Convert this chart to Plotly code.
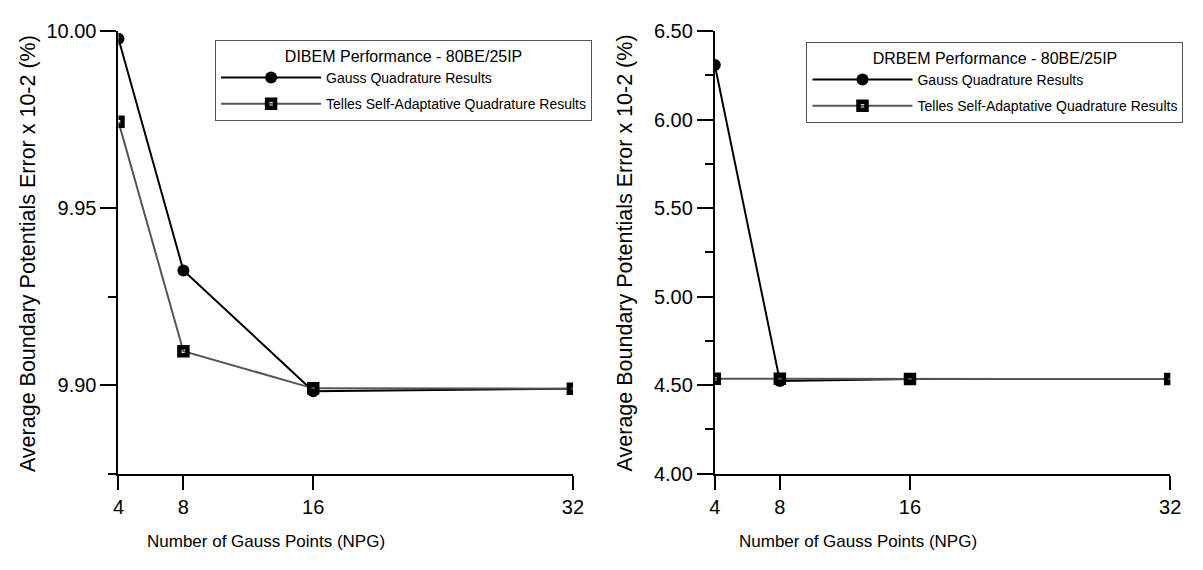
import plotly.graph_objects as go

# ---- data ----
npg = [4, 8, 16, 32]
x_ticks = [4, 8, 16, 32]

dibem_gauss = [9.9978, 9.9324, 9.8983, 9.8990]
dibem_telles = [9.9744, 9.9096, 9.8991, 9.8990]

drbem_gauss = [6.308, 4.524, 4.535, 4.535]
drbem_telles = [4.536, 4.536, 4.535, 4.535]

left_yticks = [9.90, 9.95, 10.00]
left_yminor = [9.875, 9.925]
right_yticks = [4.00, 4.50, 5.00, 5.50, 6.00, 6.50]
right_yminor = [4.25, 4.75, 5.25, 5.75, 6.25]

names = ["Gauss Quadrature Results", "Telles Self-Adaptative Quadrature Results"]
legend_titles = ["DIBEM Performance - 80BE/25IP", "DRBEM Performance - 80BE/25IP"]
y_title = "Average Boundary Potentials Error x 10-2 (%)"
x_title = "Number of Gauss Points (NPG)"

# page is 1203x570; the html body keeps a default 8px margin
PAGE_W, PAGE_H, BODY = 1203, 570, 8
W, H = PAGE_W - 2 * BODY, PAGE_H - 2 * BODY
FONT = "Liberation Sans, Arial, sans-serif"

fig = go.Figure()

gauss_marker = dict(symbol="circle", size=12, color="black")
telles_marker = dict(symbol="square-open", size=8, color="black", line=dict(width=4.5, color="black"))

# left panel
fig.add_trace(go.Scatter(x=npg, y=dibem_gauss, mode="lines+markers", name=names[0],
                         line=dict(color="black", width=2), marker=gauss_marker,
                         xaxis="x", yaxis="y", legend="legend", legendgroup="g1"))
fig.add_trace(go.Scatter(x=npg, y=dibem_telles, mode="lines+markers", name=names[1],
                         line=dict(color="#555555", width=2), marker=telles_marker,
                         xaxis="x", yaxis="y", legend="legend", legendgroup="t1"))
# right panel
fig.add_trace(go.Scatter(x=npg, y=drbem_gauss, mode="lines+markers", name=names[0],
                         line=dict(color="black", width=2), marker=gauss_marker,
                         xaxis="x2", yaxis="y2", legend="legend2", legendgroup="g2"))
fig.add_trace(go.Scatter(x=npg, y=drbem_telles, mode="lines+markers", name=names[1],
                         line=dict(color="#555555", width=2), marker=telles_marker,
                         xaxis="x2", yaxis="y2", legend="legend2", legendgroup="t2"))

def px_x(p):
    return (p - BODY) / W

def px_y(p):
    return 1 - (p - BODY) / H

plot_top, plot_bot = 20.5, 481.5

axis_common = dict(showline=True, linecolor="black", linewidth=2, ticks="outside",
                   tickcolor="black", tickwidth=2, showgrid=False, zeroline=False,
                   tickfont=dict(family=FONT, size=20, color="black"))

legend_common = dict(xanchor="left", yanchor="top", bordercolor="#555555", borderwidth=1,
                     bgcolor="white", font=dict(family=FONT, size=14), itemwidth=100,
                     tracegroupgap=5)

fig.update_layout(
    width=W, height=H,
    margin=dict(l=0, r=0, t=0, b=0),
    paper_bgcolor="white", plot_bgcolor="white",
    font=dict(family=FONT, color="black"),
    xaxis=dict(domain=[px_x(114), px_x(575)], range=[4, 32], tickvals=x_ticks,
               ticklen=14, anchor="y", **axis_common),
    yaxis=dict(domain=[px_y(plot_bot), px_y(plot_top)], range=[9.875, 10.0],
               tickvals=left_yticks, tickformat=".2f", ticklen=16, anchor="x",
               minor=dict(tickvals=left_yminor, ticklen=8, ticks="outside",
                          tickcolor="black", tickwidth=2),
               **axis_common),
    xaxis2=dict(domain=[px_x(719), px_x(1181)], range=[4, 32], tickvals=x_ticks,
                ticklen=14, anchor="y2", **axis_common),
    yaxis2=dict(domain=[px_y(plot_bot), px_y(plot_top)], range=[4.0, 6.5],
                tickvals=right_yticks, tickformat=".2f", ticklen=16, anchor="x2",
                minor=dict(tickvals=right_yminor, ticklen=8, ticks="outside",
                           tickcolor="black", tickwidth=2),
                **axis_common),
    legend=dict(x=px_x(212), y=px_y(30),
                title=dict(text=legend_titles[0], side="top center",
                           font=dict(family=FONT, size=16)),
                **legend_common),
    legend2=dict(x=px_x(812), y=px_y(32),
                 title=dict(text=legend_titles[1], side="top center",
                            font=dict(family=FONT, size=16)),
                 **legend_common),
)

# axis titles
for cx in [23, 628]:
    fig.add_annotation(text=y_title, xref="paper", yref="paper", x=px_x(cx),
                       y=px_y(252), textangle=-90, showarrow=False,
                       xanchor="center", yanchor="middle",
                       font=dict(family=FONT, size=21.5, color="black"))
for cx in [264, 864]:
    fig.add_annotation(text=x_title, xref="paper", yref="paper", x=px_x(cx),
                       y=px_y(552), showarrow=False, xanchor="center", yanchor="middle",
                       font=dict(family=FONT, size=17, color="black"))

fig.write_html("out.html")
